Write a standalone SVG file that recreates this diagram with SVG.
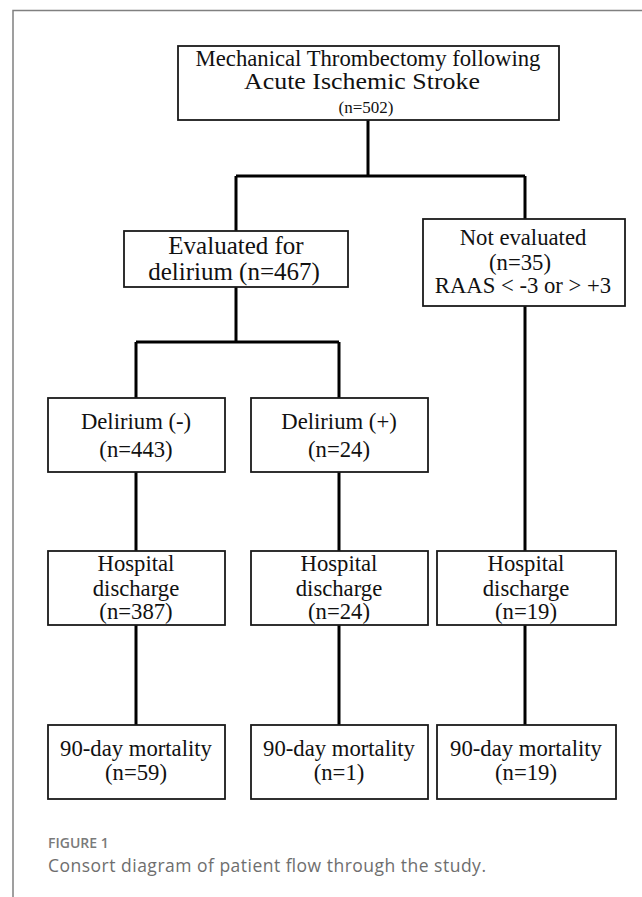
<svg xmlns="http://www.w3.org/2000/svg" width="642" height="897" viewBox="0 0 642 897">
<style>
.box{fill:#fff;stroke:#1a1a1a;stroke-width:1.8}
.t{font-family:"Liberation Serif","Times New Roman",serif;font-size:22.7px;fill:#111;text-anchor:middle}
.s{font-size:17px}
.big{font-size:25px}
.con{fill:none;stroke:#000;stroke-width:3}
.frame{fill:none;stroke:#808080;stroke-width:1.5}
.cap1{font-family:"Open Sans","Noto Sans",sans-serif;font-size:14px;font-weight:600;fill:#7a7a7a}
.cap2{font-family:"Open Sans","Noto Sans",sans-serif;font-size:17.5px;fill:#6e6e6e}
</style>
<path class="frame" d="M13 897 V10.5 H642"/>
<g id="connectors">
<path class="con" d="M368 120 V176 M236 176 H525 M236 176 V231 M525 176 V219"/>
<path class="con" d="M236 287 V342 M136 342 H339 M136 342 V398 M339 342 V398"/>
<path class="con" d="M136 472 V551 M339 472 V551 M525 306 V551"/>
<path class="con" d="M136 625 V725 M339 625 V725 M525 625 V725"/>
</g>
<g id="n_mt">
<rect class="box" x="178" y="46" width="381" height="74"/>
<text class="t"><tspan x="368" y="66">Mechanical Thrombectomy following</tspan><tspan x="362" y="89" textLength="236" lengthAdjust="spacingAndGlyphs">Acute Ischemic Stroke</tspan><tspan x="366" y="113" class="s">(n=502)</tspan></text>
</g>
<g id="n_eval">
<rect class="box" x="124" y="231" width="224" height="56"/>
<text class="t big"><tspan x="236" y="254">Evaluated for</tspan><tspan x="234" y="280">delirium (n=467)</tspan></text>
</g>
<g id="n_noteval">
<rect class="box" x="423" y="219" width="202" height="87"/>
<text class="t"><tspan x="523" y="245">Not evaluated</tspan><tspan x="520" y="270">(n=35)</tspan><tspan x="523" y="293">RAAS &lt; -3 or &gt; +3</tspan></text>
</g>
<g id="n_delneg">
<rect class="box" x="48" y="398" width="177" height="74"/>
<text class="t"><tspan x="136" y="429">Delirium (-)</tspan><tspan x="136" y="457">(n=443)</tspan></text>
</g>
<g id="n_delpos">
<rect class="box" x="251" y="398" width="177" height="74"/>
<text class="t"><tspan x="339" y="429">Delirium (+)</tspan><tspan x="339" y="457">(n=24)</tspan></text>
</g>
<g id="n_hd1">
<rect class="box" x="48" y="551" width="177" height="74"/>
<text class="t"><tspan x="136" y="571">Hospital</tspan><tspan x="136" y="596">discharge</tspan><tspan x="136" y="619">(n=387)</tspan></text>
</g>
<g id="n_hd2">
<rect class="box" x="251" y="551" width="177" height="74"/>
<text class="t"><tspan x="339" y="571">Hospital</tspan><tspan x="339" y="596">discharge</tspan><tspan x="339" y="619">(n=24)</tspan></text>
</g>
<g id="n_hd3">
<rect class="box" x="437" y="551" width="179" height="74"/>
<text class="t"><tspan x="526" y="571">Hospital</tspan><tspan x="526" y="596">discharge</tspan><tspan x="526" y="619">(n=19)</tspan></text>
</g>
<g id="n_m1">
<rect class="box" x="48" y="725" width="177" height="74"/>
<text class="t"><tspan x="136" y="756">90-day mortality</tspan><tspan x="136" y="780">(n=59)</tspan></text>
</g>
<g id="n_m2">
<rect class="box" x="251" y="725" width="177" height="74"/>
<text class="t"><tspan x="339" y="756">90-day mortality</tspan><tspan x="339" y="780">(n=1)</tspan></text>
</g>
<g id="n_m3">
<rect class="box" x="437" y="725" width="179" height="74"/>
<text class="t"><tspan x="526" y="756">90-day mortality</tspan><tspan x="526" y="780">(n=19)</tspan></text>
</g>
<text class="cap1" x="48" y="848">FIGURE 1</text>
<text class="cap2" x="48" y="872" textLength="438" lengthAdjust="spacing">Consort diagram of patient flow through the study.</text>
</svg>
